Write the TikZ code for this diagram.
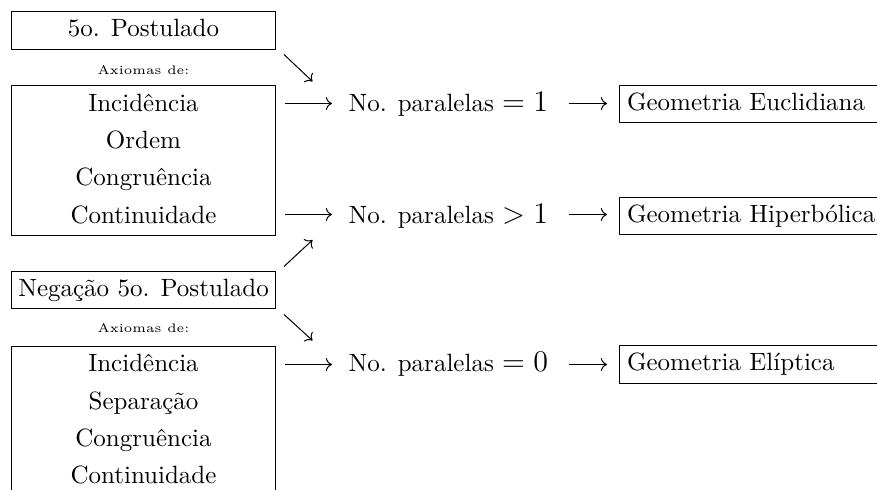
\documentclass[tikz,border=0pt]{standalone}
\usetikzlibrary{arrows.meta}
\begin{document}
\begin{tikzpicture}[x=0.4pt,y=-0.4pt,
  box/.style={draw, line width=0.4pt, inner sep=0pt},
  lbox/.style={box, minimum width=105.2pt},
  tbox/.style={box, minimum width=105.2pt, minimum height=15pt, text height=6.94pt, text depth=1.94pt},
  gbox/.style={draw, line width=0.4pt, inner sep=3pt, anchor=west, text width=110pt, align=left, text height=6.94pt, text depth=1.94pt},
  ln/.style={anchor=base, inner sep=0pt},
  axl/.style={anchor=base, inner sep=0pt, font=\tiny},
  pl/.style={anchor=base west, inner sep=0pt},
  arr/.style={-{Computer Modern Rightarrow}, line width=0.4pt}]
\useasboundingbox (0,0) rectangle (877,490);
\clip (0,0) rectangle (877,490);

% left column, top group
\node[tbox] (p5) at (143.5,30.5) {5o. Postulado};
\node[axl] (ax1) at (143.5,75) {Axiomas de:};
\node[lbox, minimum height=60pt] (a1) at (143.5,161) {};
\node[ln] (a1l1) at (143.5,111.5) {Incidência};
\node[ln] (a1l2) at (143.5,148.7) {Ordem};
\node[ln] (a1l3) at (143.5,185.9) {Congruência};
\node[ln] (a1l4) at (143.5,223.1) {Continuidade};

% left column, bottom group
\node[tbox] (n5) at (143.5,290) {Negação 5o. Postulado};
\node[axl] (ax2) at (143.5,333) {Axiomas de:};
\node[lbox, minimum height=60pt] (a2) at (143.5,422) {};
\node[ln] (a2l1) at (143.5,372) {Incidência};
\node[ln] (a2l2) at (143.5,409.2) {Separação};
\node[ln] (a2l3) at (143.5,446.4) {Congruência};
\node[ln] (a2l4) at (143.5,483.6) {Continuidade};

% middle column
\node[pl] (pe) at (348,111.5) {No. paralelas {\large$= 1$}};
\node[pl] (ph) at (348,223.1) {No. paralelas {\large$> 1$}};
\node[pl] (pz) at (348,372) {No. paralelas {\large$= 0$}};

% right column
\node[gbox] (ge) at (619,104) {Geometria Euclidiana};
\node[gbox] (gh) at (619,216) {Geometria Hiperbólica};
\node[gbox] (gl) at (619,364.5) {Geometria Elíptica};

% arrow end points
\coordinate (s1) at (285,103.5);
\coordinate (e1) at (332,103.5);
\coordinate (s2) at (285,214.5);
\coordinate (e2) at (332,214.5);
\coordinate (s3) at (285,364.5);
\coordinate (e3) at (332,364.5);
\coordinate (d1s) at (284,54.5);
\coordinate (d1e) at (312.5,81.5);
\coordinate (d2s) at (284,266.5);
\coordinate (d2e) at (312.5,240);
\coordinate (d3s) at (284,314.5);
\coordinate (d3e) at (312.5,340.5);

\draw[arr] (s1) -- (e1);
\draw[arr] (s2) -- (e2);
\draw[arr] (s3) -- (e3);
\draw[arr] (d1s) -- (d1e);
\draw[arr] (d2s) -- (d2e);
\draw[arr] (d3s) -- (d3e);

\draw[arr, shorten >=4.8pt] ([xshift=8pt]pe.east |- s1) -- (ge.west |- s1);
\draw[arr, shorten >=4.8pt] ([xshift=8pt]ph.east |- s2) -- (gh.west |- s2);
\draw[arr, shorten >=4.8pt] ([xshift=8pt]pz.east |- s3) -- (gl.west |- s3);
\end{tikzpicture}
\end{document}
